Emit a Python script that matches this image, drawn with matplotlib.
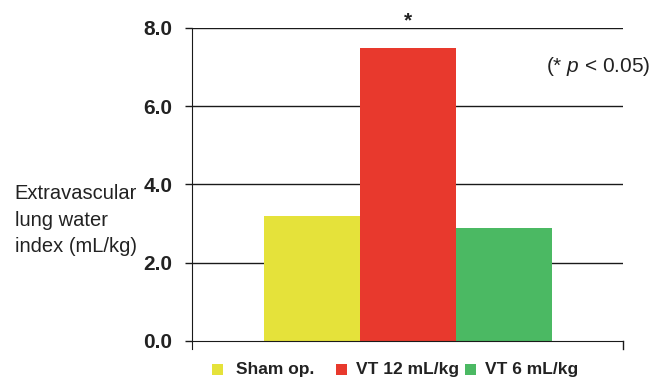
import matplotlib.pyplot as plt
from matplotlib.patches import Rectangle

plt.rcParams['font.family'] = ['Liberation Sans', 'DejaVu Sans']
plt.rcParams['mathtext.fontset'] = 'custom'
plt.rcParams['mathtext.it'] = 'Liberation Sans:italic'
plt.rcParams['mathtext.rm'] = 'Liberation Sans'

groups = ['Sham op.', 'VT 12 mL/kg', 'VT 6 mL/kg']
values = [3.2, 7.5, 2.9]
colors = ['#e5e23a', '#e8392d', '#4bb963']
yticks = [0.0, 2.0, 4.0, 6.0, 8.0]

fig = plt.figure(figsize=(6.64, 3.83), dpi=100)
ax = fig.add_axes([0.289, 0.1097, 0.649, 0.8173])

x = range(len(values))
ax.bar(x, values, width=1.0, color=colors, zorder=2)

# horizontal rules at each tick
for t in yticks[1:]:
    ax.axhline(t, color='#1a1a1a', lw=1.0, zorder=1)

ax.set_xlim(-1.25, 3.24)
ax.set_ylim(0, 8)
ax.set_yticks(yticks)
ax.set_yticklabels([f'{t:.1f}' for t in yticks], fontsize=15, fontweight='bold',
                   color='#222222')
ax.tick_params(axis='y', length=5, width=1, pad=9, color='#1a1a1a')
ax.set_xticks([])

for s in ['top', 'right']:
    ax.spines[s].set_visible(False)
ax.spines['left'].set_bounds(-0.2, 8)
ax.spines['left'].set_color('#1a1a1a')
ax.spines['bottom'].set_color('#1a1a1a')
ax.spines['left'].set_zorder(3)
ax.spines['bottom'].set_zorder(3)
# small end tick on the right of the baseline
ax.plot([3.24, 3.24], [0, -0.2], color='#1a1a1a', lw=1, clip_on=False)

ax.text(1, 7.95, '*', ha='center', va='bottom', fontsize=15, fontweight='bold',
        color='#222222')
fig.text(0.822, 0.827, r'(* $\it{p}$ < 0.05)', ha='left', va='center',
         fontsize=15, color='#222222')

fig.text(0.022, 0.425, 'Extravascular\nlung water\nindex (mL/kg)', ha='left',
         va='center', fontsize=14.5, color='#222222', linespacing=1.5)

# legend row below the axis: colour square then bold label
sq_x = [0.320, 0.506, 0.701]
txt_x = [0.355, 0.536, 0.731]
sq_w, sq_h = 11 / 664, 11 / 383
for c, g, sx, tx in zip(colors, groups, sq_x, txt_x):
    fig.add_artist(Rectangle((sx, 0.034 - sq_h / 2), sq_w, sq_h,
                             transform=fig.transFigure, color=c, lw=0))
    fig.text(tx, 0.034, g, ha='left', va='center', fontsize=12.5,
             fontweight='bold', color='#222222')

fig.savefig('out.png', dpi=100)
